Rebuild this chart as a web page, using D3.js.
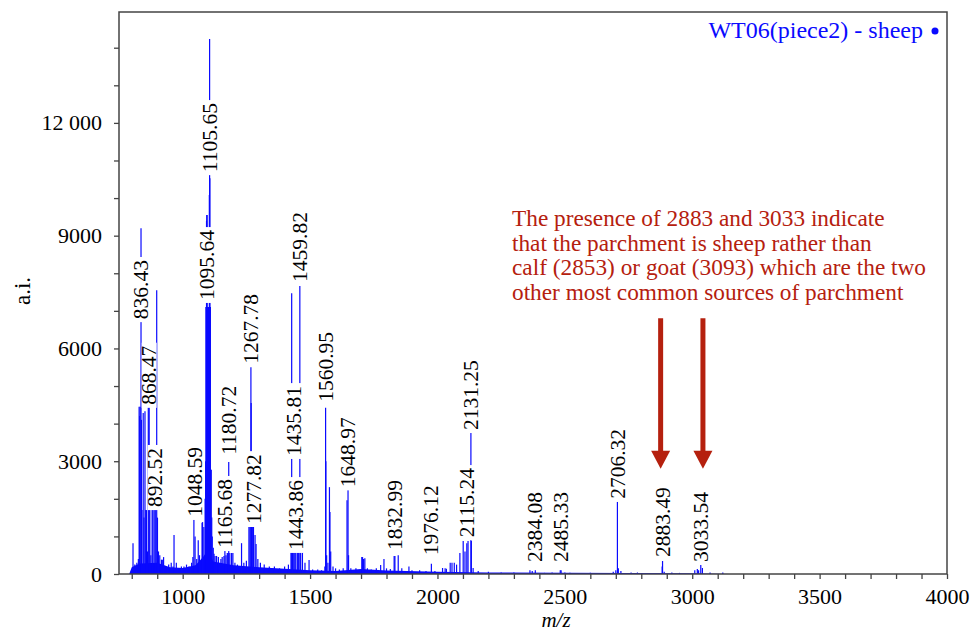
<!DOCTYPE html>
<html>
<head>
<meta charset="utf-8">
<script src="https://cdn.jsdelivr.net/npm/d3@7"></script>
<style>
body { margin: 0; background: #fff; }
text { font-family: "Liberation Serif", "Times New Roman", serif; }
</style>
</head>
<body>
<svg id="chart"></svg>
<script>
var width = 970, height = 631;
var margin = {top: 12, right: 23, bottom: 57, left: 119};

// m/z of each stick peak and its intensity (a.i.)
var peakMz = [805, 812, 820, 826, 829, 831, 833, 836.43, 838, 840, 845, 848, 852, 855, 858, 862, 865, 868.47, 871, 875,
  880, 883, 888, 892.52, 898, 901, 905, 910, 917, 920, 925, 935, 945, 955, 962, 966, 975, 985, 995, 1005,
  1015, 1025, 1035, 1040, 1044, 1048.59, 1055, 1061, 1066, 1076, 1078, 1083, 1088, 1090, 1091.6, 1092.6, 1093.6, 1094.6, 1095.64, 1096.6,
  1097.6, 1099, 1100, 1101, 1102, 1103, 1104.6, 1105.65, 1106.65, 1107.6, 1108.6, 1110, 1112, 1114, 1116, 1120, 1123, 1127, 1133, 1140,
  1150, 1155, 1162, 1165.68, 1170, 1175, 1178, 1180.72, 1185, 1192, 1197, 1205, 1215, 1231, 1240, 1250, 1260, 1264, 1267.78, 1268.78,
  1270, 1273, 1276, 1277.82, 1284, 1288, 1295, 1305, 1320, 1340, 1360, 1380, 1400, 1415, 1425, 1427.8, 1431, 1435.81, 1440, 1443.86,
  1450, 1454, 1459.82, 1463, 1470, 1480, 1496, 1510, 1530, 1545, 1558, 1560.95, 1562, 1565, 1570, 1576, 1578, 1581, 1590, 1600,
  1615, 1630, 1645, 1648.97, 1651, 1660, 1680, 1703, 1706, 1710, 1715, 1725, 1740, 1760, 1777, 1790, 1800, 1815, 1830, 1832.99,
  1846, 1860, 1888, 1900, 1930, 1955, 1976.12, 1990, 2020, 2030, 2035, 2050, 2057, 2066, 2075, 2088, 2101, 2108, 2115.24, 2120,
  2131.25, 2133, 2140, 2160, 2200, 2250, 2300, 2363, 2372, 2384.08, 2420, 2450, 2482, 2485.33, 2500, 2520, 2560, 2600, 2690, 2700,
  2706.32, 2710, 2720, 2760, 2785, 2882, 2883.49, 2890, 2920, 2950, 3010, 3020, 3025, 3033.54, 3040, 3070, 3120];
var peakInt = [820, 250, 300, 400, 4450, 4200, 4450, 9200, 4100, 1700, 4280, 1500, 4330, 1700, 1700, 600, 4450, 4450, 1700, 500,
  1700, 1700, 1700, 1700, 7550, 1500, 600, 500, 380, 380, 450, 200, 250, 300, 200, 1040, 300, 150, 200, 200,
  250, 200, 300, 450, 1440, 1000, 400, 900, 500, 1360, 1380, 1250, 2000, 3000, 7100, 7100, 9400, 9550, 9550, 7100,
  7100, 7100, 7100, 7100, 7100, 7100, 10080, 14230, 10530, 7100, 7100, 2770, 2770, 1500, 1000, 700, 540, 480, 480, 450,
  400, 450, 480, 640, 500, 560, 560, 2980, 560, 560, 560, 300, 250, 820, 300, 350, 1250, 1250, 5500, 4550,
  1250, 1250, 1250, 1250, 1040, 800, 400, 300, 250, 200, 200, 150, 200, 250, 585, 7470, 585, 585, 585, 600,
  585, 585, 7660, 585, 585, 300, 370, 120, 120, 100, 200, 4420, 3000, 500, 300, 2310, 1650, 600, 200, 150,
  120, 150, 1960, 2230, 500, 150, 150, 450, 450, 400, 420, 150, 120, 150, 240, 400, 150, 130, 480, 480,
  500, 150, 200, 100, 100, 80, 270, 80, 160, 150, 140, 300, 300, 300, 250, 560, 880, 600, 820, 880,
  3750, 880, 160, 80, 60, 40, 40, 100, 80, 100, 30, 40, 100, 100, 40, 30, 25, 30, 60, 100,
  1920, 150, 80, 40, 40, 200, 345, 60, 40, 30, 100, 130, 100, 240, 160, 40, 40];

// noisy baseline under the spectrum
var baseMz = [790, 800, 830, 900, 950, 1000, 1050, 1080, 1100, 1120, 1200, 1300, 1400, 1500, 1600, 1700, 1800, 2000, 2200, 2500, 3000, 3150];
var baseInt = [0, 180, 280, 300, 180, 160, 230, 450, 650, 330, 230, 180, 140, 100, 80, 130, 90, 60, 40, 30, 20, 0];

// peak labels and the intensity where each label begins
var labelText = ["836.43", "868.47", "892.52", "1048.59", "1095.64", "1105.65", "1165.68", "1180.72", "1267.78", "1277.82",
  "1435.81", "1443.86", "1459.82", "1560.95", "1648.97", "1832.99", "1976.12", "2115.24", "2131.25", "2384.08",
  "2485.33", "2706.32", "2883.49", "3033.54"];
var labelAt = [6780, 4500, 1780, 1520, 7290, 10690, 690, 3170, 5590, 1330,
  3140, 640, 7770, 4580, 2310, 640, 500, 980, 3830, 320,
  320, 2000, 450, 320];

var xTicks = d3.range(800, 4001, 100);
var xTickLabels = [1000, 1500, 2000, 2500, 3000, 3500, 4000];
var yTicks = d3.range(0, 14001, 1000);
var yTickLabels = {0: "0", 3000: "3000", 6000: "6000", 9000: "9000", 12000: "12 000"};

var arrowMz = [2876, 3042];
var arrowTop = 6800, arrowTip = 2800;
var noteLines = ["The presence of 2883 and 3033 indicate",
  "that the parchment is sheep rather than",
  "calf (2853) or goat (3093) which are the two",
  "other most common sources of parchment"];
var legendText = "WT06(piece2) - sheep";

var blue = "#0a0aff", red = "#b5200e", frameColor = "#444";

var svg = d3.select("#chart").attr("width", width).attr("height", height);

var x = d3.scaleLinear().domain([750, 4000]).range([margin.left, width - margin.right]);
var y = d3.scaleLinear().domain([0, 14950]).range([height - margin.bottom, margin.top]);

// clip to plot area
svg.append("clipPath").attr("id", "plot-clip").append("rect")
  .attr("x", x(750)).attr("y", y(14950))
  .attr("width", x(4000) - x(750)).attr("height", y(0) - y(14950));

var plot = svg.append("g").attr("clip-path", "url(#plot-clip)");

var baseData = baseMz.map(function(m, i) { return [m, baseInt[i]]; });
plot.append("path")
  .datum(baseData)
  .attr("fill", blue)
  .attr("d", d3.area().x(function(d) { return x(d[0]); }).y0(y(0)).y1(function(d) { return y(d[1]); }));

var peaks = peakMz.map(function(m, i) { return {mz: m, v: peakInt[i]}; });
plot.selectAll("line.peak").data(peaks).enter().append("line")
  .attr("class", "peak")
  .attr("x1", function(d) { return x(d.mz); })
  .attr("x2", function(d) { return x(d.mz); })
  .attr("y1", y(0))
  .attr("y2", function(d) { return y(d.v); })
  .attr("stroke", blue)
  .attr("stroke-width", 1.2);

// labels with white boxes over the spectrum
var labels = labelText.map(function(t, i) { return {text: t, mz: +t, at: labelAt[i]}; });
var lg = svg.selectAll("g.peak-label").data(labels).enter().append("g")
  .attr("class", "peak-label")
  .attr("transform", function(d) { return "translate(" + x(d.mz) + "," + y(d.at) + ") rotate(-90)"; });
var lbox = lg.append("rect").attr("fill", "#fff");
var ltext = lg.append("text")
  .text(function(d) { return d.text; })
  .attr("x", 0)
  .attr("y", 0)
  .attr("dy", "0.33em")
  .attr("font-size", 21.5)
  .attr("fill", "#000");
ltext.each(function(d) { d.len = this.getComputedTextLength(); });
lbox.attr("x", -3).attr("y", -7.5)
  .attr("width", function(d) { return d.len + 6; })
  .attr("height", 15);

// frame
svg.append("rect")
  .attr("x", x(750)).attr("y", y(14950))
  .attr("width", x(4000) - x(750)).attr("height", y(0) - y(14950))
  .attr("fill", "none").attr("stroke", frameColor).attr("stroke-width", 1.5);

var xAxis = d3.axisBottom(x).tickValues(xTicks).tickSize(5).tickPadding(9)
  .tickFormat(function(d) { return xTickLabels.indexOf(d) >= 0 ? d : ""; });
var gx = svg.append("g").attr("transform", "translate(0," + y(0) + ")").call(xAxis);
gx.select(".domain").remove();
gx.selectAll("line").attr("stroke", frameColor).attr("stroke-width", 1.3);
gx.selectAll("text").attr("font-size", 22).attr("font-family", "Liberation Serif").attr("fill", "#000");

var yAxis = d3.axisLeft(y).tickValues(yTicks).tickSize(5).tickPadding(12)
  .tickFormat(function(d) { return yTickLabels[d] || ""; });
var gy = svg.append("g").attr("transform", "translate(" + x(750) + ",0)").call(yAxis);
gy.select(".domain").remove();
gy.selectAll("line").attr("stroke", frameColor).attr("stroke-width", 1.3);
gy.selectAll("text").attr("font-size", 22).attr("font-family", "Liberation Serif").attr("fill", "#000");

// axis titles
svg.append("text").text("a.i.")
  .attr("transform", "translate(30,291) rotate(-90)")
  .attr("text-anchor", "middle").attr("font-size", 23);
svg.append("text").text("m/z")
  .attr("x", 556).attr("y", 627)
  .attr("text-anchor", "middle").attr("font-size", 21).attr("font-style", "italic");

// legend
svg.append("text").text(legendText)
  .attr("x", 923).attr("y", 38)
  .attr("text-anchor", "end").attr("font-size", 24).attr("fill", blue);
svg.append("circle").attr("cx", 935).attr("cy", 31).attr("r", 3.5).attr("fill", blue);

// annotation
svg.append("text")
  .attr("font-size", 23.3).attr("fill", red)
  .selectAll("tspan").data(noteLines).enter().append("tspan")
  .attr("x", 512)
  .attr("y", function(d, i) { return 226 + i * 24.6; })
  .text(function(d) { return d; });

// arrows
var arrows = svg.selectAll("g.arrow").data(arrowMz).enter().append("g").attr("class", "arrow");
arrows.append("line")
  .attr("x1", function(d) { return x(d); }).attr("x2", function(d) { return x(d); })
  .attr("y1", y(arrowTop)).attr("y2", y(arrowTip) - 14)
  .attr("stroke", red).attr("stroke-width", 5);
arrows.append("path")
  .attr("d", function(d) {
    var cx = x(d), ty = y(arrowTip);
    return "M" + (cx - 9.5) + "," + (ty - 18) + "L" + (cx + 9.5) + "," + (ty - 18) + "L" + cx + "," + ty + "Z";
  })
  .attr("fill", red);
</script>
</body>
</html>
